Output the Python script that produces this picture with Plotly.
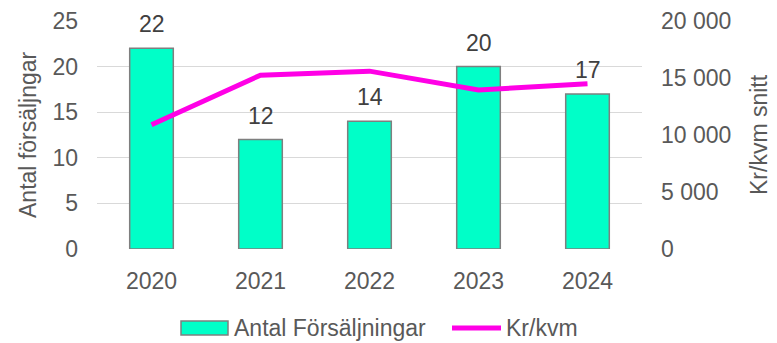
import plotly.graph_objects as go

# Sales per year and average price per square metre
years = ["2020", "2021", "2022", "2023", "2024"]
antal_forsaljningar = [22, 12, 14, 20, 17]
kr_per_kvm = [10900, 15250, 15600, 13950, 14500]

left_ticks = [0, 5, 10, 15, 20, 25]
right_ticks = [0, 5000, 10000, 15000, 20000]

FONT = "Arial, Liberation Sans, sans-serif"
FS = 23
TICK_COLOR = "#595959"
LABEL_COLOR = "#404040"
GRID = "#d9d9d9"
BAR_FILL = "#00FFC8"
BAR_EDGE = "#7f7f7f"
LINE_COLOR = "#FF00E6"

W, H = 777, 343
ML, MR, MT, MB = 97, 135, 21, 94
PW, PH = W - ML - MR, H - MT - MB


def px(x):
    """Pixel x -> paper x."""
    return (x - ML) / PW


def py(y):
    """Pixel y -> paper y."""
    return (H - MB - y) / PH


fig = go.Figure()

fig.add_trace(go.Bar(
    x=years,
    y=antal_forsaljningar,
    name="Antal Försäljningar",
    width=0.4,
    marker=dict(color=BAR_FILL, line=dict(color=BAR_EDGE, width=1.5)),
    showlegend=False,
))

fig.add_trace(go.Scatter(
    x=years,
    y=kr_per_kvm,
    name="Kr/kvm",
    mode="lines",
    yaxis="y2",
    line=dict(color=LINE_COLOR, width=5),
    showlegend=False,
))

annotations = []
# value labels above the bars (x given as category index)
for i, v in enumerate(antal_forsaljningar):
    annotations.append(dict(
        x=i, y=v, xref="x", yref="y", text=str(v), showarrow=False,
        xanchor="center", yanchor="bottom", yshift=9,
        font=dict(family=FONT, size=FS, color=LABEL_COLOR),
    ))

# axis titles
annotations += [
    dict(text="Antal försäljngar", textangle=-90, xref="paper", yref="paper",
         x=px(28), y=0.5, xanchor="center", yanchor="middle", showarrow=False,
         font=dict(family=FONT, size=FS, color=TICK_COLOR)),
    dict(text="Kr/kvm snitt", textangle=-90, xref="paper", yref="paper",
         x=px(759), y=0.5, xanchor="center", yanchor="middle", showarrow=False,
         font=dict(family=FONT, size=FS, color=TICK_COLOR)),
]

# legend entries
LEG_Y = 328
annotations += [
    dict(text="Antal Försäljningar", xref="paper", yref="paper",
         x=px(232), y=py(LEG_Y), xanchor="left", yanchor="middle", showarrow=False,
         font=dict(family=FONT, size=FS, color=TICK_COLOR)),
    dict(text="Kr/kvm", xref="paper", yref="paper",
         x=px(504), y=py(LEG_Y), xanchor="left", yanchor="middle", showarrow=False,
         font=dict(family=FONT, size=FS, color=TICK_COLOR)),
]

shapes = [
    dict(type="rect", xref="paper", yref="paper",
         x0=px(181), x1=px(228), y0=py(LEG_Y + 7), y1=py(LEG_Y - 7),
         fillcolor=BAR_FILL, line=dict(color=BAR_EDGE, width=1.5)),
    dict(type="line", xref="paper", yref="paper",
         x0=px(452), x1=px(501), y0=py(LEG_Y), y1=py(LEG_Y),
         line=dict(color=LINE_COLOR, width=5)),
]

fig.update_layout(
    width=W,
    height=H,
    margin=dict(l=ML, r=MR, t=MT, b=MB, autoexpand=False),
    paper_bgcolor="white",
    plot_bgcolor="white",
    separators=", ",
    font=dict(family=FONT, size=FS, color=TICK_COLOR),
    showlegend=False,
    xaxis=dict(
        type="category",
        range=[-0.5, len(years) - 0.5],
        showgrid=False,
        showline=False,
        zeroline=False,
        ticks="",
        automargin=False,
        tickfont=dict(family=FONT, size=FS, color=TICK_COLOR),
        ticklabelstandoff=16,
    ),
    yaxis=dict(
        range=[0, 25],
        tickvals=left_ticks,
        showgrid=True,
        gridcolor=GRID,
        gridwidth=1,
        zeroline=False,
        showline=False,
        ticks="",
        automargin=False,
        tickfont=dict(family=FONT, size=FS, color=TICK_COLOR),
        ticklabelstandoff=18,
    ),
    yaxis2=dict(
        range=[0, 20000],
        tickvals=right_ticks,
        tickformat=",d",
        overlaying="y",
        side="right",
        showgrid=False,
        zeroline=False,
        showline=False,
        ticks="",
        automargin=False,
        tickfont=dict(family=FONT, size=FS, color=TICK_COLOR),
        ticklabelstandoff=18,
    ),
    annotations=annotations,
    shapes=shapes,
)

fig.write_html("out.html")
